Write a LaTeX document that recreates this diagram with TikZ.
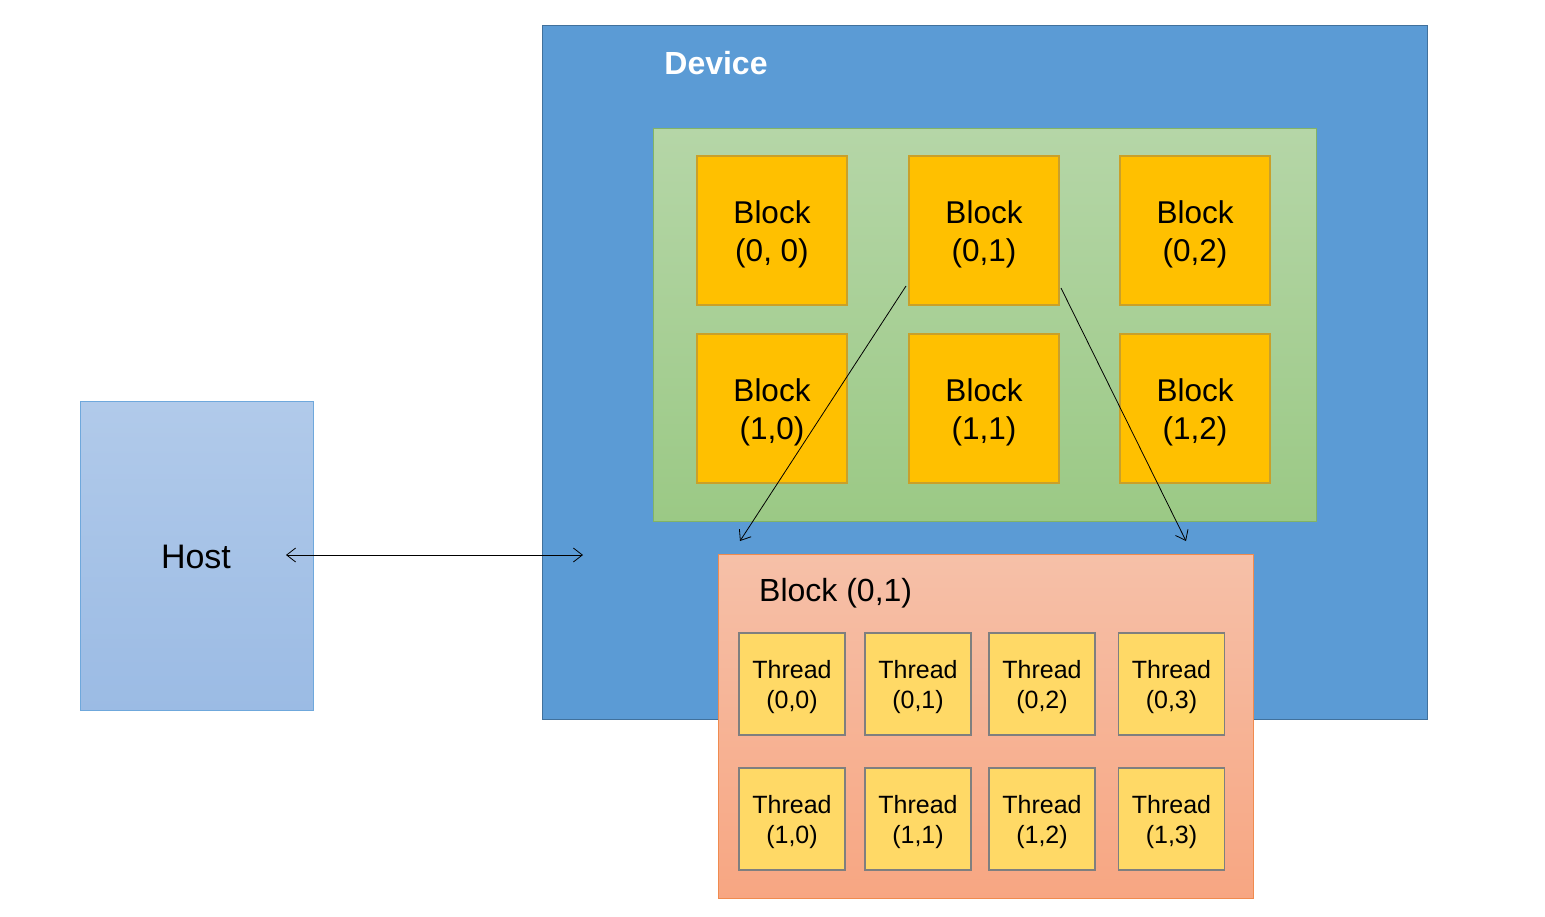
\documentclass[tikz,border=0pt]{standalone}
\usepackage{fontspec}
\setmainfont{Liberation Sans}
\usetikzlibrary{arrows.meta}
\definecolor{devfill}{HTML}{5B9BD5}
\definecolor{devdraw}{HTML}{41719C}
\definecolor{hosttop}{HTML}{B1CAEA}
\definecolor{hostbot}{HTML}{9BBBE4}
\definecolor{hostdraw}{HTML}{6FA8DC}
\definecolor{gridtop}{HTML}{B5D6A7}
\definecolor{gridbot}{HTML}{9BC985}
\definecolor{griddraw}{HTML}{82B366}
\definecolor{blkfill}{HTML}{FFC000}
\definecolor{blkdraw}{HTML}{C9A02A}
\definecolor{bxtop}{HTML}{F6C0A8}
\definecolor{bxbot}{HTML}{F7A682}
\definecolor{bxdraw}{HTML}{F08B4F}
\definecolor{thrfill}{HTML}{FFD966}
\definecolor{thrdraw}{HTML}{7F7F7F}
\newcommand{\bfix}{\rule{0pt}{30pt}}
\newcommand{\tfix}{\rule{0pt}{24.5pt}}
\tikzset{
  blockbox/.style={draw=blkdraw, line width=1.2pt, fill=blkfill, minimum width=150pt, minimum height=149pt, inner sep=0pt, align=center, font=\fontsize{31.5}{38}\selectfont},
  threadbox/.style={draw=thrdraw, line width=1.2pt, fill=thrfill, minimum width=106pt, minimum height=102pt, inner sep=0pt, align=center, font=\fontsize{25}{30}\selectfont},
  conn/.style={draw=black, line width=0.8pt, -{Straight Barb[length=9pt,width=14pt]}},
}
\begin{document}
\begin{tikzpicture}[x=1pt,y=-1pt]
\useasboundingbox (0,0) rectangle (1545,916);
% Host
\node[draw=hostdraw, line width=1pt, top color=hosttop, bottom color=hostbot, minimum width=233pt, minimum height=309pt, inner sep=0pt, anchor=north west] (host) at (80,401) {};
\node[font=\fontsize{34}{40}\selectfont] (hostlbl) at (196,557) {Host};
% Device
\node[draw=devdraw, line width=1.2pt, fill=devfill, minimum width=885pt, minimum height=694pt, inner sep=0pt, anchor=north west] (device) at (542,25) {};
\node[font=\bfseries\fontsize{32}{38}\selectfont, text=white] (devlbl) at (716,63) {Device};
% Grid
\node[draw=griddraw, line width=1.2pt, top color=gridtop, bottom color=gridbot, minimum width=663pt, minimum height=393pt, inner sep=0pt, anchor=north west] (grid) at (653,128) {};
% Blocks
\node[blockbox] (b00) at (772,230.5) {\bfix Block\\(0, 0)};
\node[blockbox] (b01) at (984,230.5) {\bfix Block\\(0,1)};
\node[blockbox] (b02) at (1195,230.5) {\bfix Block\\(0,2)};
\node[blockbox] (b10) at (772,408.5) {\bfix Block\\(1,0)};
\node[blockbox] (b11) at (984,408.5) {\bfix Block\\(1,1)};
\node[blockbox] (b12) at (1195,408.5) {\bfix Block\\(1,2)};
% Block (0,1) detail
\node[draw=bxdraw, line width=1.2pt, top color=bxtop, bottom color=bxbot, minimum width=535pt, minimum height=344pt, inner sep=0pt, anchor=north west] (bx) at (718,554) {};
\node[font=\fontsize{32}{38}\selectfont, anchor=west, inner sep=0pt] (bxlbl) at (759,593) {Block (0,1)};
% Threads
\node[threadbox] (t00) at (792,684) {\tfix Thread\\(0,0)};
\node[threadbox] (t01) at (918,684) {\tfix Thread\\(0,1)};
\node[threadbox] (t02) at (1042,684) {\tfix Thread\\(0,2)};
\node[threadbox] (t03) at (1171.5,684) {\tfix Thread\\(0,3)};
\node[threadbox] (t10) at (792,819) {\tfix Thread\\(1,0)};
\node[threadbox] (t11) at (918,819) {\tfix Thread\\(1,1)};
\node[threadbox] (t12) at (1042,819) {\tfix Thread\\(1,2)};
\node[threadbox] (t13) at (1171.5,819) {\tfix Thread\\(1,3)};
% Connectors
\coordinate (aL) at (906,286);
\coordinate (aLend) at (740,541);
\coordinate (aR) at (1061,288);
\coordinate (aRend) at (1186,541);
\coordinate (hA) at (286,555);
\coordinate (hB) at (583,555);
\draw[conn] (aL) -- (aLend);
\draw[conn] (aR) -- (aRend);
\draw[conn, {Straight Barb[length=9pt,width=14pt]}-{Straight Barb[length=9pt,width=14pt]}] (hA) -- (hB);
\end{tikzpicture}
\end{document}
